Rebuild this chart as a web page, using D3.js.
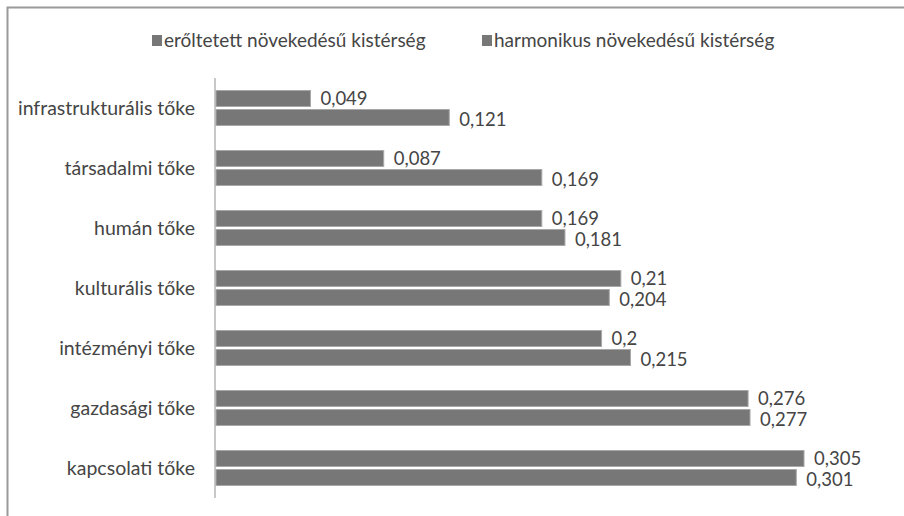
<!DOCTYPE html>
<html>
<head>
<meta charset="utf-8">
<script src="https://cdnjs.cloudflare.com/ajax/libs/d3/7.8.5/d3.min.js"></script>
<style>
  body { margin: 0; background: #fff; }
  text { font-family: Lato, "Open Sans", sans-serif; fill: #454545; }
</style>
</head>
<body>
<div id="chart"></div>
<script>
// categories top to bottom, two series
var categories = ["infrastrukturális tőke", "társadalmi tőke", "humán tőke", "kulturális tőke",
  "intézményi tőke", "gazdasági tőke", "kapcsolati tőke"];
var seriesNames = ["erőltetett növekedésű kistérség", "harmonikus növekedésű kistérség"];
var forced = [0.049, 0.087, 0.169, 0.21, 0.2, 0.276, 0.305];
var harmonic = [0.121, 0.169, 0.181, 0.204, 0.215, 0.277, 0.301];

var svgWidth = 904, svgHeight = 516;
var margin = { top: 78, left: 216 };

var svg = d3.select("#chart").append("svg")
  .attr("width", svgWidth)
  .attr("height", svgHeight);

// frame (only top and left edges visible in the picture)
svg.append("path")
  .attr("d", "M7.5,516 V7.5 H904")
  .attr("fill", "none")
  .attr("stroke", "#9a9a9a")
  .attr("stroke-width", 2);

var xScale = d3.scaleLinear().domain([0, 0.305]).range([margin.left, 804]);
var yScale = d3.scaleBand().domain(categories).range([78, 498]);

var barH = 16, gap = 3;
var pairTop = function(c) { return yScale(c) + (yScale.bandwidth() - (2 * barH + gap)) / 2; };

// value axis line
svg.append("line")
  .attr("x1", margin.left - 1).attr("x2", margin.left - 1)
  .attr("y1", 78).attr("y2", 498)
  .attr("stroke", "#c8c8c8").attr("stroke-width", 2);

// category labels
svg.selectAll(".cat").data(categories).enter().append("text")
  .attr("class", "cat")
  .attr("x", 195)
  .attr("y", c => yScale(c) + yScale.bandwidth() / 2 + 7)
  .attr("text-anchor", "end")
  .style("font-size", "19.5px")
  .text(c => c);

var series = [forced, harmonic];
series.forEach(function(vals, si) {
  var rows = categories.map((c, i) => ({ c: c, v: vals[i] }));
  svg.selectAll(".bar" + si).data(rows).enter().append("rect")
    .attr("class", "bar" + si)
    .attr("x", margin.left)
    .attr("y", d => pairTop(d.c) + si * (barH + gap))
    .attr("width", d => xScale(d.v) - margin.left)
    .attr("height", barH)
    .attr("fill", "#777777")
    .attr("stroke", "#a8a8a8")
    .attr("stroke-width", 1);

  svg.selectAll(".lbl" + si).data(rows).enter().append("text")
    .attr("class", "lbl" + si)
    .attr("x", d => xScale(d.v) + 10)
    .attr("y", d => pairTop(d.c) + si * (barH + gap) + barH / 2 + 6 + si * 2)
    .style("font-size", "18.5px")
    .text(d => String(d.v).replace(".", ","));
});

// legend
var legendX = [152, 482];
seriesNames.forEach(function(name, i) {
  svg.append("rect")
    .attr("x", legendX[i]).attr("y", 35)
    .attr("width", 10).attr("height", 11)
    .attr("fill", "#777777");
  svg.append("text")
    .attr("x", legendX[i] + 12).attr("y", 47)
    .style("font-size", "19px")
    .text(name);
});
</script>
</body>
</html>
